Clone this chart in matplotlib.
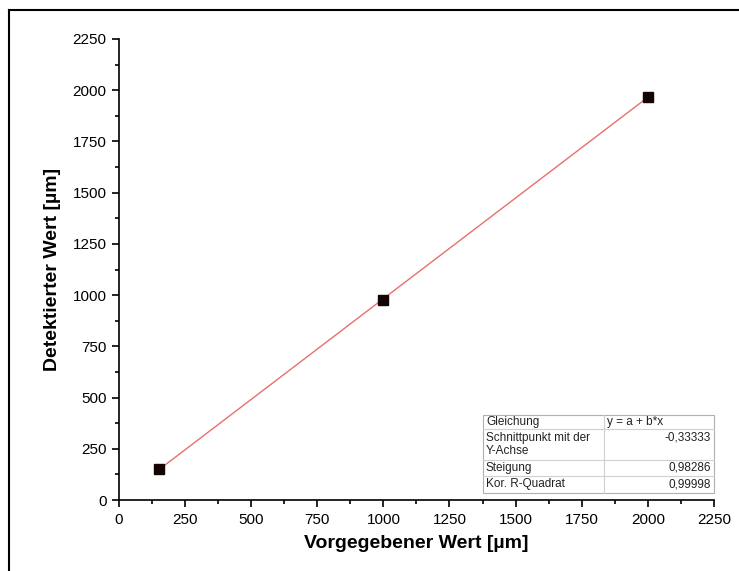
import matplotlib
matplotlib.use('Agg')
import matplotlib.pyplot as plt
from matplotlib.patches import Rectangle
from matplotlib.ticker import MultipleLocator
import numpy as np

# data
x_set = [150, 1000, 2000]
y_det = [150, 977, 1968]

table_rows = [
    ("Gleichung", "y = a + b*x"),
    ("Schnittpunkt mit der\nY-Achse", "-0,33333"),
    ("Steigung", "0,98286"),
    ("Kor. R-Quadrat", "0,99998"),
]

plt.rcParams['font.family'] = ['Liberation Sans', 'DejaVu Sans']

W, H = 739, 571
def fx(px): return px / W
def fy(py): return 1 - py / H

fig = plt.figure(figsize=(7.39, 5.71), dpi=100)
ax = fig.add_axes([0.161, 0.1243, 0.805, 0.8074])

# frame lines (top and left only, rest is cut off)
fig.add_artist(plt.Line2D([fx(9), 1], [fy(10), fy(10)], transform=fig.transFigure,
                          color="black", linewidth=1.5))
fig.add_artist(plt.Line2D([fx(9), fx(9)], [fy(10), 0], transform=fig.transFigure,
                          color="black", linewidth=1.5))

b, a = np.polyfit(x_set, y_det, 1)
xl = np.array([min(x_set), max(x_set)])
ax.plot(xl, a + b * xl, color="#e8706a", linewidth=1, zorder=2)
ax.plot(x_set, y_det, linestyle="none", marker="s", markersize=6.5,
        color="#140404", zorder=3)

ax.set_xlim(0, 2250)
ax.set_ylim(0, 2250)
ax.xaxis.set_major_locator(MultipleLocator(250))
ax.yaxis.set_major_locator(MultipleLocator(250))
ax.xaxis.set_minor_locator(MultipleLocator(125))
ax.yaxis.set_minor_locator(MultipleLocator(125))
ax.tick_params(which="major", direction="out", length=5, width=1.2, labelsize=11, pad=4)
ax.tick_params(which="minor", direction="out", length=3, width=1.2)
for sp in ["top", "right"]:
    ax.spines[sp].set_visible(False)
for sp in ["bottom", "left"]:
    ax.spines[sp].set_linewidth(1.2)

ax.set_xlabel("Vorgegebener Wert [µm]", fontsize=14, fontweight="bold", labelpad=6)
ax.set_ylabel("Detektierter Wert [µm]", fontsize=14, fontweight="bold", labelpad=8)

# result table
tx0, tx1, tx2 = 483, 604, 714
ty = [415, 429, 460, 476, 493]
fig.patches.append(Rectangle((fx(tx0), fy(ty[-1])), fx(tx2) - fx(tx0), fy(ty[0]) - fy(ty[-1]),
                             transform=fig.transFigure, facecolor="white",
                             edgecolor="#b0b0b0", linewidth=0.8, zorder=5))
for yy in ty[1:-1]:
    fig.add_artist(plt.Line2D([fx(tx0), fx(tx2)], [fy(yy), fy(yy)], transform=fig.transFigure,
                              color="#d0d0d0", linewidth=0.8, zorder=6))
fig.add_artist(plt.Line2D([fx(tx1), fx(tx1)], [fy(ty[0]), fy(ty[-1])], transform=fig.transFigure,
                          color="#d0d0d0", linewidth=0.8, zorder=6))
for i, (lab, val) in enumerate(table_rows):
    yc = fy((ty[i] + ty[i + 1]) / 2)
    fig.text(fx(tx0 + 3), yc, lab, fontsize=8.5, va="center", ha="left", zorder=7,
             linespacing=1.0, color="#222222")
    if i == 0:
        fig.text(fx(tx1 + 3), yc, val, fontsize=8.5, va="center", ha="left", zorder=7,
                 color="#222222")
    elif i == 1:
        fig.text(fx(tx2 - 3), fy(ty[i] + 8), val, fontsize=8.5, va="center", ha="right",
                 zorder=7, color="#222222")
    else:
        fig.text(fx(tx2 - 3), yc, val, fontsize=8.5, va="center", ha="right", zorder=7,
                 color="#222222")

fig.savefig("out.png", dpi=100)
